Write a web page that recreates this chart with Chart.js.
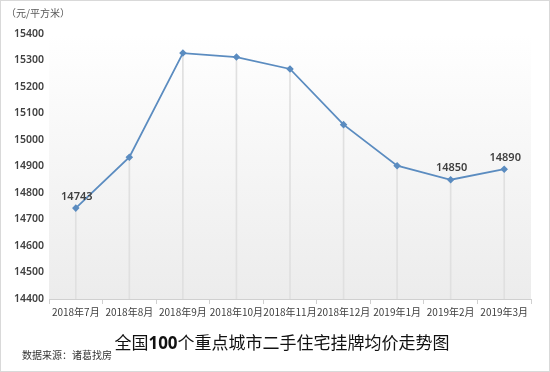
<!DOCTYPE html>
<html>
<head>
<meta charset="utf-8">
<script src="https://cdn.jsdelivr.net/npm/chart.js@4/dist/chart.umd.min.js"></script>
<style>
  html, body { margin: 0; padding: 0; background: #fff; }
  #wrap { position: relative; width: 550px; height: 372px; overflow: hidden; }
  #frame { position: absolute; left: 0; top: 0; width: 548px; height: 370px; border: 1px solid #d9d9d9; pointer-events: none; }
  .txt { position: absolute; font-family: "Noto Sans CJK SC", sans-serif; white-space: nowrap; }
  #unit { left: 6px; top: 5px; font-size: 10px; color: #595959; }
  #title { left: 7px; width: 550px; top: 329px; text-align: center; font-size: 17px; color: #111; }
  #title b { font-family: "Noto Sans", sans-serif; font-weight: 700; }
  #source { left: 22px; top: 347px; font-size: 10px; color: #333; }
</style>
</head>
<body>
<div id="wrap">
  <canvas id="chart" width="550" height="372"></canvas>
  <div class="txt" id="unit">（元/平方米）</div>
  <div class="txt" id="title">全国<b>100</b>个重点城市二手住宅挂牌均价走势图</div>
  <div class="txt" id="source">数据来源：诸葛找房</div>
  <div id="frame"></div>
</div>
<script>
// listing price, yuan per sq m
const months = ['2018年7月', '2018年8月', '2018年9月', '2018年10月', '2018年11月', '2018年12月', '2019年1月', '2019年2月', '2019年3月'];
const prices = [14743, 14935, 15328, 15313, 15268, 15058, 14903, 14850, 14890];
const labelled = [0, 7, 8];
const yTicks = [14400, 14500, 14600, 14700, 14800, 14900, 15000, 15100, 15200, 15300, 15400];

const plotBg = {
  id: 'plotBg',
  beforeDraw(chart) {
    const { ctx, chartArea: a } = chart;
    const g = ctx.createLinearGradient(0, a.top, 0, a.bottom);
    g.addColorStop(0, '#ffffff');
    g.addColorStop(1, '#ececec');
    ctx.save();
    ctx.fillStyle = g;
    ctx.fillRect(a.left, a.top, a.right - a.left, a.bottom - a.top);
    ctx.restore();
  }
};

const pointLabels = {
  id: 'pointLabels',
  afterDatasetsDraw(chart) {
    const { ctx } = chart;
    const meta = chart.getDatasetMeta(1);
    ctx.save();
    ctx.font = '600 11px "Noto Sans", sans-serif';
    ctx.fillStyle = '#404040';
    ctx.textAlign = 'center';
    ctx.textBaseline = 'bottom';
    labelled.forEach(i => {
      const p = meta.data[i];
      ctx.fillText(prices[i], p.x + 1, p.y - 6);
    });
    ctx.restore();
  }
};

new Chart(document.getElementById('chart'), {
  data: {
    labels: months,
    datasets: [
      { type: 'bar', data: prices, backgroundColor: '#e0e0e0', barThickness: 1, order: 2 },
      { type: 'line', data: prices, borderColor: '#5b8cc0', borderWidth: 1.8, pointStyle: 'rectRot',
        pointRadius: 2.5, pointBackgroundColor: '#5b8cc0', pointBorderColor: '#5b8cc0', tension: 0, order: 1 }
    ]
  },
  options: {
    responsive: false,
    animation: false,
    layout: { padding: { top: 34, right: 19, left: 0, bottom: 0 } },
    plugins: { legend: { display: false }, tooltip: { enabled: false } },
    scales: {
      x: {
        offset: true,
        grid: { offset: true, drawOnChartArea: false, drawTicks: true, tickLength: 5, color: '#d0d0d0' },
        border: { color: '#d0d0d0' },
        ticks: { color: '#404040', font: { size: 10, family: '"Noto Sans CJK SC", sans-serif' }, maxRotation: 0, autoSkip: false, padding: 2 },
        afterFit(s) { s.height = 73; }
      },
      y: {
        min: 14400, max: 15400,
        afterBuildTicks(s) { s.ticks = yTicks.map(v => ({ value: v })); },
        grid: { display: false, drawTicks: false },
        border: { display: false },
        ticks: { color: '#404040', font: { size: 10.5, weight: '600', family: '"Noto Sans", sans-serif' }, padding: 5,
          callback: v => String(v) },
        afterFit(s) { s.width = 49; }
      }
    }
  },
  plugins: [plotBg, pointLabels]
});
</script>
</body>
</html>
